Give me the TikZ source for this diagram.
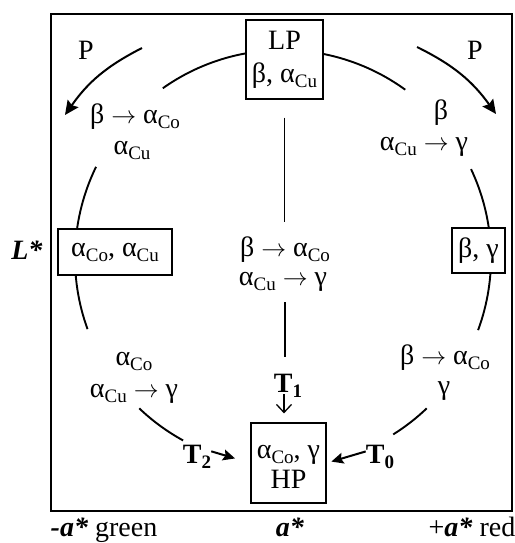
\documentclass[tikz,border=0pt]{standalone}
\usepackage{fontspec}
\setmainfont{Liberation Serif}
\usetikzlibrary{arrows.meta}
\newcommand{\mysub}[1]{\raisebox{-5pt}{\fontsize{19}{19}\selectfont #1}}
\newcommand{\rar}{$\rightarrow$}
\begin{document}
\begin{tikzpicture}[x=1pt,y=-1pt,
  every node/.style={font=\fontsize{28}{33}\selectfont, inner sep=0pt},
  box/.style={draw, line width=1.2pt, fill=white, align=center},
  arcline/.style={line width=1.9pt},
  vline/.style={line width=1.3pt},
  parrow/.style={line width=2pt, -{Stealth[length=14pt,width=13pt,inset=2pt]}},
  tarrow/.style={line width=2pt, -{Stealth[length=12pt,width=11pt,inset=2pt]}},
  openarr/.style={line width=1.3pt, -{Straight Barb[length=8pt,width=15pt,line width=1.3pt]}}
]
\useasboundingbox (0,0) rectangle (514,543);
\draw[line width=2pt] (51,14) rectangle (512,511);

\coordinate (C) at (283,258);
% circle arcs
\draw[arcline] ([shift={(262:208)}]C) arc[start angle=262, end angle=234.7, radius=208];
\draw[arcline] ([shift={(278:208)}]C) arc[start angle=278, end angle=306, radius=208];
\draw[arcline] ([shift={(206:208)}]C) arc[start angle=206, end angle=160, radius=208];
\draw[arcline] ([shift={(-25.3:208)}]C) arc[start angle=-25.3, end angle=20.3, radius=208];
\draw[arcline] ([shift={(133.7:208)}]C) arc[start angle=133.7, end angle=118.7, radius=208];
\draw[arcline] ([shift={(46.3:208)}]C) arc[start angle=46.3, end angle=58, radius=208];

% boxes
\node[box, minimum width=77pt, minimum height=79pt] (lp) at (284.5,59.5) {LP\\β, α\mysub{Cu}};
\node[box, minimum width=75pt, minimum height=80pt] (hp) at (288.5,463) {};
\node[align=center, font=\fontsize{28}{30}\selectfont] (hpt) at (288.5,467) {α\mysub{Co}, γ\\HP};
\node[box, minimum width=114pt, minimum height=46pt] (lbox) at (115,252) {α\mysub{Co}, α\mysub{Cu}};
\node[box, minimum width=53pt, minimum height=45pt] (rbox) at (478.5,250.5) {β, γ};

% P labels and arrows
\node (pl) at (86,50) {P};
\node (pr) at (475,50) {P};
\coordinate (pls) at (142,48);
\coordinate (ple) at (65,115);
\coordinate (prs) at (417,47);
\coordinate (pre) at (496,114);
\draw[parrow] (pls) to[bend right=14] (ple);
\draw[parrow] (prs) to[bend left=14] (pre);

% texts on the circle
\node (tl1) at (135,117) {β \rar\ α\mysub{Co}};
\node (tl2) at (132,150) {α\mysub{Cu}};
\node (tr1) at (441,113) {β};
\node (tr2) at (424,147) {α\mysub{Cu} \rar\ γ};
\node[align=center, font=\fontsize{28}{32}\selectfont] (bl) at (134,378) {α\mysub{Co}\\α\mysub{Cu} \rar\ γ};
\node (br1) at (445,358) {β \rar\ α\mysub{Co}};
\node (br2) at (444,391) {γ};

% centre
\node (c1) at (285,250) {β \rar\ α\mysub{Co}};
\node (c2) at (283,282) {α\mysub{Cu} \rar\ γ};
\draw[vline, shorten <=18pt] (lp.south) -- (lp.south |- 0,222);
\draw[vline] (285,302) -- (285,357);

% T labels
\node[anchor=base] (t1) at (288,392) {\textbf{T}\mysub{\textbf{1}}};
\node[anchor=base] (t2) at (197,463) {\textbf{T}\mysub{\textbf{2}}};
\node[anchor=base] (t0) at (380,463) {\textbf{T}\mysub{\textbf{0}}};
\draw[openarr, shorten <=2pt, shorten >=9pt] ([xshift=-4pt]t1.base) -- ([xshift=-4pt]t1.base |- hp.north);
\draw[tarrow, shorten >=16pt] ([yshift=5pt]t2.east) -- (hp.west);
\draw[tarrow, shorten >=5pt] ([yshift=5pt]t0.west) -- (hp.east);

% axis labels
\node[anchor=base] (lstar) at (27,259) {\textbf{\textit{L*}}};
\node[anchor=base] (ag) at (104,536) {\textbf{\textit{-a*}} green};
\node[anchor=base] (am) at (290,536) {\textbf{\textit{a*}}};
\node[anchor=base] (ar) at (472,536) {+\textbf{\textit{a*}} red};
\end{tikzpicture}
\end{document}
